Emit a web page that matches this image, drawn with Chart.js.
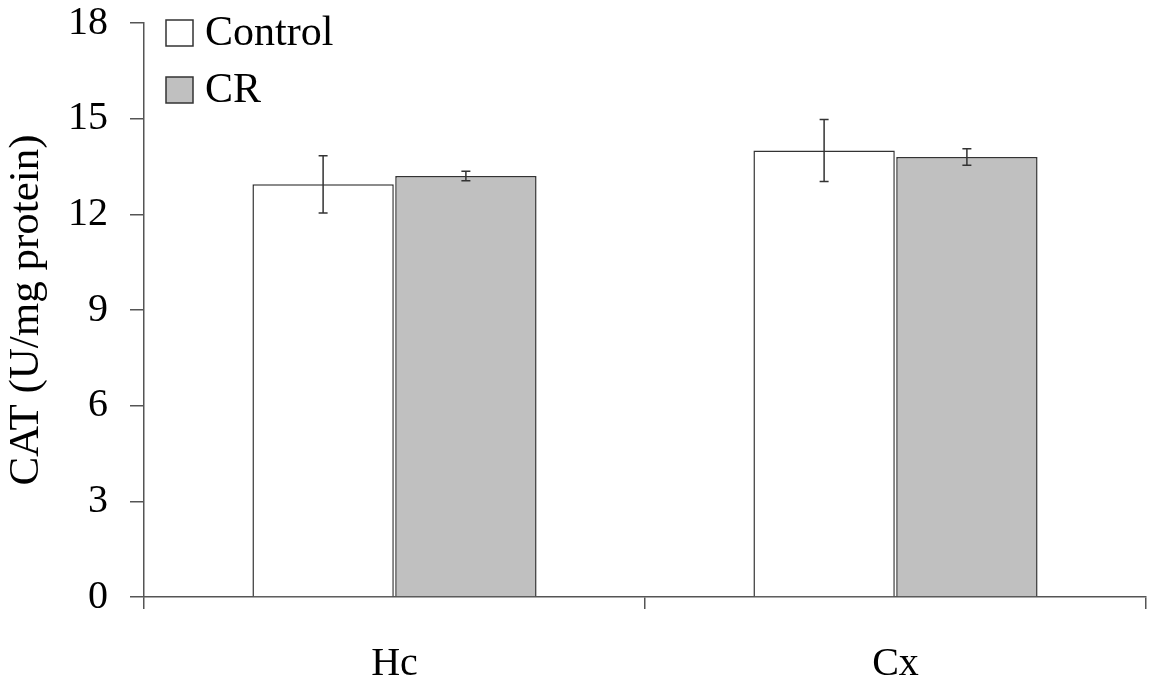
<!DOCTYPE html>
<html>
<head>
<meta charset="utf-8">
<script src="https://cdn.jsdelivr.net/npm/chart.js@4"></script>
<style>
  html, body { margin: 0; padding: 0; background: #fff; }
  #wrap { width: 1150px; height: 684px; }
</style>
</head>
<body>
<div id="wrap"><canvas id="chart" width="1150" height="684"></canvas></div>
<script>
const categories = ["Hc", "Cx"];
const controlValues = [12.94, 14.0];
const controlErrors = [0.9, 0.97];
const crValues = [13.2, 13.8];
const crErrors = [0.15, 0.26];
const yTicks = [0, 3, 6, 9, 12, 15, 18];

const FONT = "'Liberation Serif', 'Times New Roman', serif";

// error bars drawn from the bar elements
const errorBars = {
  id: "errorBars",
  afterDatasetsDraw(chart) {
    const ctx = chart.ctx;
    const y = chart.scales.y;
    ctx.save();
    ctx.strokeStyle = "#333";
    ctx.lineWidth = 1.5;
    chart.data.datasets.forEach((ds, i) => {
      const meta = chart.getDatasetMeta(i);
      meta.data.forEach((bar, j) => {
        const v = ds.data[j], e = ds.errors[j];
        const top = y.getPixelForValue(v + e);
        const bot = y.getPixelForValue(v - e);
        const x = bar.x;
        ctx.beginPath();
        ctx.moveTo(x, top); ctx.lineTo(x, bot);
        ctx.moveTo(x - 4.5, top); ctx.lineTo(x + 4.5, top);
        ctx.moveTo(x - 4.5, bot); ctx.lineTo(x + 4.5, bot);
        ctx.stroke();
      });
    });
    ctx.restore();
  }
};

// legend in the top-left corner of the plot
const cornerLegend = {
  id: "cornerLegend",
  afterDraw(chart) {
    const ctx = chart.ctx;
    ctx.save();
    ctx.font = "42px " + FONT;
    ctx.textBaseline = "middle";
    chart.data.datasets.forEach((ds, i) => {
      const top = 20 + i * 57;
      ctx.fillStyle = ds.backgroundColor;
      ctx.fillRect(166, top, 27, 26);
      ctx.strokeStyle = "#333";
      ctx.lineWidth = 1.5;
      ctx.strokeRect(166, top, 27, 26);
      ctx.fillStyle = "#000";
      ctx.fillText(ds.label, 205, top + 14);
    });
    ctx.restore();
  }
};

new Chart(document.getElementById("chart"), {
  type: "bar",
  data: {
    labels: categories,
    datasets: [
      {
        label: "Control",
        data: controlValues,
        errors: controlErrors,
        backgroundColor: "#ffffff",
        borderColor: "#333",
        borderWidth: 1.5
      },
      {
        label: "CR",
        data: crValues,
        errors: crErrors,
        backgroundColor: "#c0c0c0",
        borderColor: "#333",
        borderWidth: 1.5
      }
    ]
  },
  options: {
    responsive: false,
    animation: false,
    layout: { padding: { top: 23, right: 4, left: 0, bottom: 0 } },
    datasets: { bar: { categoryPercentage: 0.57, barPercentage: 0.99 } },
    plugins: {
      legend: { display: false },
      tooltip: { enabled: false }
    },
    scales: {
      x: {
        grid: {
          offset: true,
          drawOnChartArea: false,
          tickLength: 12,
          color: "#555",
          lineWidth: 1.5
        },
        border: { color: "#555", width: 1.5 },
        ticks: {
          color: "#000",
          font: { family: FONT, size: 40 },
          padding: 31
        },
        afterFit(s) { s.height = 87; s.paddingLeft = 0; s.paddingRight = 0; }
      },
      y: {
        min: 0,
        max: 18,
        afterBuildTicks(s) { s.ticks = yTicks.map(v => ({ value: v })); },
        grid: {
          drawOnChartArea: false,
          tickLength: 14,
          color: "#555",
          lineWidth: 1.5
        },
        border: { color: "#555", width: 1.5 },
        ticks: {
          color: "#000",
          font: { family: FONT, size: 40 },
          padding: 22
        },
        title: {
          display: true,
          text: "CAT (U/mg protein)",
          color: "#000",
          font: { family: FONT, size: 43 },
          padding: { top: 1, bottom: 0 }
        },
        afterFit(s) { s.width = 144; s.paddingTop = 0; s.paddingBottom = 0; }
      }
    }
  },
  plugins: [errorBars, cornerLegend]
});
</script>
</body>
</html>
